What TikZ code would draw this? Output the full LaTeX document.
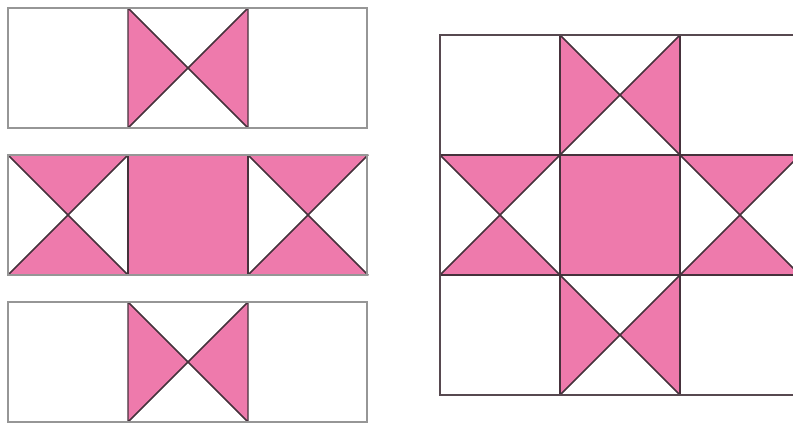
\documentclass[tikz,border=0pt]{standalone}
\definecolor{qpink}{RGB}{238,122,172}
\definecolor{qline}{RGB}{70,50,60}
\definecolor{qframe}{RGB}{150,150,150}
\tikzset{
  tri/.style={fill=qpink, draw=qline, line width=1.1pt, line join=round},
  frame/.style={draw=qframe, line width=1.6pt},
  grid/.style={draw=qline, line width=1.1pt}
}
\newcommand{\hgH}[2]{% pink left and right triangles
  \path[tri] (#1,#2) -- (#1,#2+120) -- (#1+60,#2+60) -- cycle;
  \path[tri] (#1+120,#2) -- (#1+120,#2+120) -- (#1+60,#2+60) -- cycle;
  \draw[grid] (#1,#2) -- (#1+120,#2+120) (#1+120,#2) -- (#1,#2+120);}
\newcommand{\hgV}[2]{% pink top and bottom triangles
  \path[tri] (#1,#2) -- (#1+120,#2) -- (#1+60,#2+60) -- cycle;
  \path[tri] (#1,#2+120) -- (#1+120,#2+120) -- (#1+60,#2+60) -- cycle;
  \draw[grid] (#1,#2) -- (#1+120,#2+120) (#1+120,#2) -- (#1,#2+120);}
\begin{document}
\begin{tikzpicture}[x=1pt,y=-1pt]
\useasboundingbox (0,0) rectangle (793,423);
\clip (0,0) rectangle (793,423);
\fill[white] (0,0) rectangle (793,423);
% top row
\hgH{128}{8}
\draw[frame] (8,8) rectangle (367,128);
% middle row
\hgV{8}{155}
\path[tri] (128,155) rectangle (248,275);
\hgV{248}{155}
\draw[frame] (8,155) rectangle (367,275);
% bottom row
\hgH{128}{302}
\draw[frame] (8,302) rectangle (367,422);
% big star
\hgH{560}{35}
\hgV{440}{155}
\path[tri] (560,155) rectangle (680,275);
\hgV{680}{155}
\hgH{560}{275}
\draw[grid] (440,155) -- (820,155) (440,275) -- (820,275)
  (560,35) -- (560,395) (680,35) -- (680,395);
\draw[frame, draw=qline!70!gray] (820,35) -- (440,35) -- (440,395) -- (820,395);
\end{tikzpicture}
\end{document}
